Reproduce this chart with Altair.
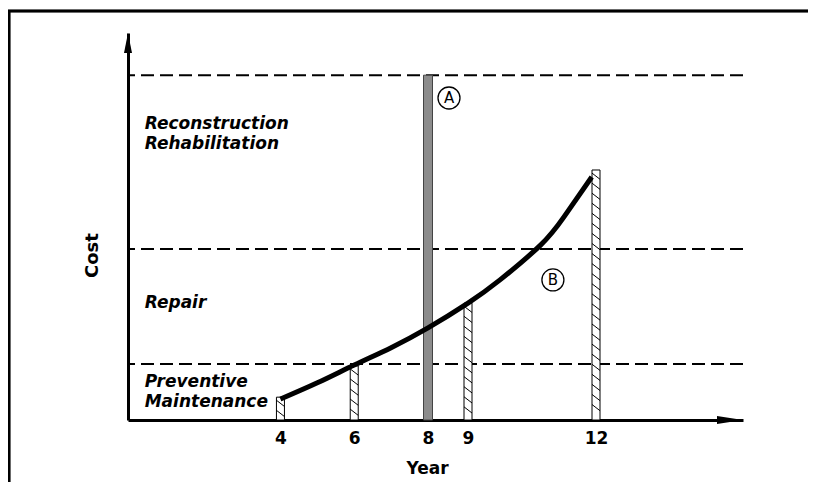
import altair as alt
import pandas as pd
import numpy as np

# ---- data ----
tick_years = [4, 6, 8, 9, 12]
bar_years = [4, 6, 9, 12]
bar_costs = [5.9, 14.0, 30.2, 64.6]
a_year = [8]
a_cost = [89.1]
curve_years = [4, 5, 6, 7, 8, 9, 9.75, 10.7, 11.25, 11.9]
curve_costs = [5.4, 9.6, 14.2, 18.7, 23.8, 30.2, 36.2, 45.2, 52.5, 62.8]
band_limits = [14.5, 44.2, 89.1]
label_texts = ["Reconstruction", "Rehabilitation", "Repair", "Preventive", "Maintenance"]
label_costs = [75.2, 70.1, 28.9, 8.5, 3.4]
label_years = [0.32, 0.32, 0.32, 0.32, 0.32]
circle_letters = ["A", "B"]
circle_years = [8.525, 10.99]
circle_costs = [83.2, 36.2]

W, H = 615, 387
FONT = "DejaVu Sans"

x_scale = alt.Scale(domain=[0, 8, 9, 12, 16], range=[0, 300, 340, 468, 615], nice=False, zero=False)
y_scale = alt.Scale(domain=[0, 100], nice=False)

bars_df = pd.DataFrame({"year": bar_years, "cost": bar_costs})
a_df = pd.DataFrame({"year": a_year, "cost": a_cost})
curve_df = pd.DataFrame({"year": curve_years, "cost": curve_costs})
band_df = pd.DataFrame({"cost": band_limits})
labels_df = pd.DataFrame({"year": label_years, "cost": label_costs, "label": label_texts})
circ_df = pd.DataFrame({"year": circle_years, "cost": circle_costs, "letter": circle_letters})

# hatch strokes derived from the bar heights
step, drop = 2.6, 1.6
hatch_rows = []
for yr, c in zip(bar_years, bar_costs):
    for top in np.arange(c - 0.8, drop, -step):
        hatch_rows.append({"year": yr, "y1": float(top), "y2": float(top - drop)})
hatch_df = pd.DataFrame(hatch_rows)

x_axis = alt.Axis(
    values=tick_years, title="Year", grid=False, ticks=False, tickSize=0,
    domainColor="black", domainWidth=3, labelFont=FONT, labelFontSize=17,
    labelFontWeight="bold", labelColor="black", labelPadding=18,
    labelBaseline="middle", labelFlush=False, labelOverlap=False,
    titleFont=FONT, titleFontSize=17, titleFontWeight="bold", titleColor="black",
    titleX=299, titleY=48, titleBaseline="middle", titleAlign="center",
)
y_axis = alt.Axis(
    labels=False, ticks=False, grid=False, domainColor="black", domainWidth=3,
    title="Cost", titleFont=FONT, titleFontSize=18, titleFontWeight="bold",
    titleColor="black", titleAngle=270, titleX=-36, titleY=222,
    titleAlign="center", titleBaseline="middle",
)


def X(field):
    return alt.X(field, scale=x_scale, axis=x_axis)


def Y(field):
    return alt.Y(field, scale=y_scale, axis=y_axis)


frame_left = alt.Chart(band_df).mark_rule(color="black", strokeWidth=2.5).encode(
    x=alt.value(-119), y=alt.value(-22), y2=alt.value(H + 120)
)
frame_top = alt.Chart(band_df).mark_rule(color="black", strokeWidth=2.5).encode(
    x=alt.value(-122), x2=alt.value(W + 72), y=alt.value(-22)
)

dashes = alt.Chart(band_df).mark_rule(color="black", strokeWidth=2, strokeDash=[13, 6]).encode(
    y=Y("cost:Q")
)

bars = alt.Chart(bars_df).mark_bar(orient="vertical", size=8, fill="white", stroke="black", strokeWidth=1).encode(
    x=X("year:Q"), y=Y("cost:Q"),
)

hatch = alt.Chart(hatch_df).mark_rule(color="black", strokeWidth=1, xOffset=-4, x2Offset=4).encode(
    x=X("year:Q"), x2="year:Q", y=Y("y1:Q"), y2="y2:Q",
)

bar_a = alt.Chart(a_df).mark_bar(orient="vertical", size=9, fill="#8c8c8c", stroke="#444444", strokeWidth=1).encode(
    x=X("year:Q"), y=Y("cost:Q"),
)

curve = alt.Chart(curve_df).mark_line(color="black", strokeWidth=5, interpolate="natural").encode(
    x=X("year:Q"), y=Y("cost:Q"),
)

labels = alt.Chart(labels_df).mark_text(
    align="left", baseline="alphabetic", font=FONT, fontSize=17,
    fontWeight="bold", fontStyle="italic", color="black",
).encode(x=X("year:Q"), y=Y("cost:Q"), text="label:N")

circles = alt.Chart(circ_df).mark_point(shape="circle", size=484, filled=False, color="black", strokeWidth=1.3, opacity=1).encode(
    x=X("year:Q"), y=Y("cost:Q"),
)
letters = alt.Chart(circ_df).mark_text(font=FONT, fontSize=15, color="black", align="center", baseline="middle").encode(
    x=X("year:Q"), y=Y("cost:Q"), text="letter:N",
)

arrow_up = alt.Chart(band_df.head(1)).mark_point(
    shape="M0,-1L0.4,1L-0.4,1Z", size=400, filled=True, color="black", opacity=1
).encode(x=alt.value(0), y=alt.value(10))
arrow_right = alt.Chart(band_df.head(1)).mark_point(
    shape="M1,0L-1,0.3L-1,-0.3Z", size=676, filled=True, color="black", opacity=1
).encode(x=alt.value(602), y=alt.value(H))

chart = alt.layer(
    frame_left, frame_top, dashes, bars, hatch, bar_a, curve, labels,
    circles, letters, arrow_up, arrow_right,
).properties(
    width=W, height=H,
    padding={"left": 120, "top": 25, "right": 65, "bottom": 62},
    autosize=alt.AutoSizeParams(type="none"),
    background="white",
).configure_view(stroke=None)

chart.save("out.html", embed_options={"renderer": "svg", "actions": False})
